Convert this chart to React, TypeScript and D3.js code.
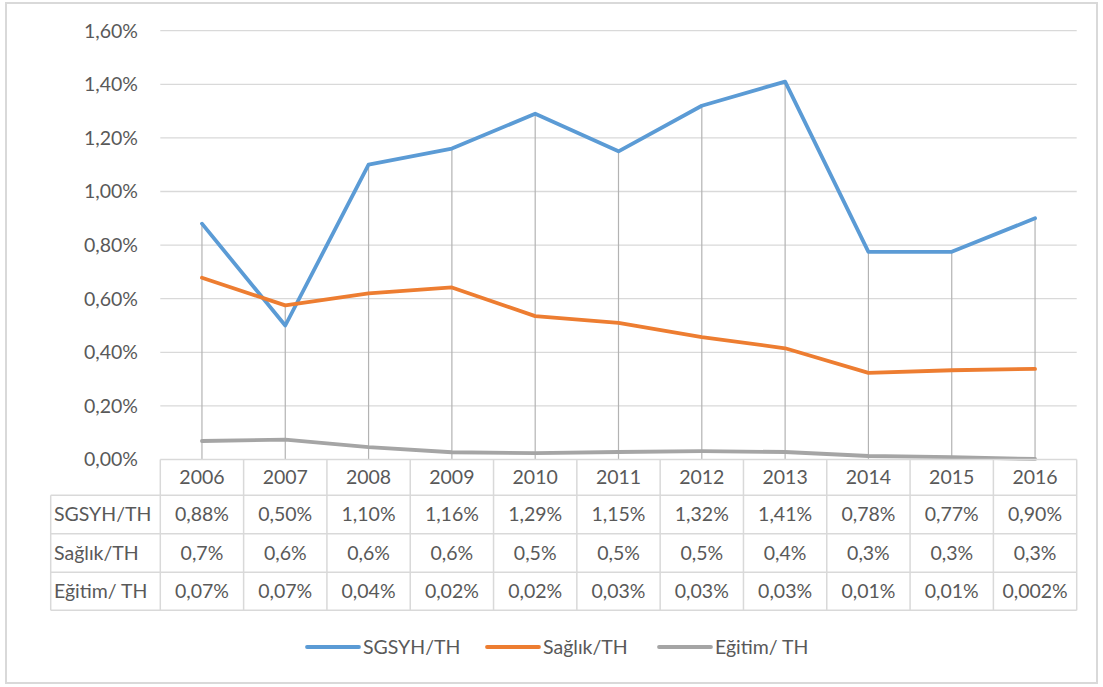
import React from 'react';
import * as d3 from 'd3';

const years = ['2006', '2007', '2008', '2009', '2010', '2011', '2012', '2013', '2014', '2015', '2016'];

// line values, in percent
const sgsyh = [0.88, 0.5, 1.1, 1.16, 1.29, 1.15, 1.32, 1.41, 0.775, 0.775, 0.9];
const saglik = [0.678, 0.575, 0.62, 0.642, 0.535, 0.51, 0.457, 0.415, 0.323, 0.333, 0.338];
const egitim = [0.069, 0.074, 0.046, 0.027, 0.024, 0.028, 0.031, 0.028, 0.013, 0.009, 0.002];

// data table text
const sgsyhLabels = ['0,88%', '0,50%', '1,10%', '1,16%', '1,29%', '1,15%', '1,32%', '1,41%', '0,78%', '0,77%', '0,90%'];
const saglikLabels = ['0,7%', '0,6%', '0,6%', '0,6%', '0,5%', '0,5%', '0,5%', '0,4%', '0,3%', '0,3%', '0,3%'];
const egitimLabels = ['0,07%', '0,07%', '0,04%', '0,02%', '0,02%', '0,03%', '0,03%', '0,03%', '0,01%', '0,01%', '0,002%'];

const yTicks = [0, 0.2, 0.4, 0.6, 0.8, 1.0, 1.2, 1.4, 1.6];

const series = [
  { name: 'SGSYH/TH', values: sgsyh, labels: sgsyhLabels, color: '#5b9bd5' },
  { name: 'Sağlık/TH', values: saglik, labels: saglikLabels, color: '#ed7d31' },
  { name: 'Eğitim/ TH', values: egitim, labels: egitimLabels, color: '#a5a5a5' },
];

const W = 1103;
const H = 687;
const FONT = 'Lato, "Open Sans", sans-serif';
const FS = 19.5;
const TEXT = '#595959';
const GRID = '#d9d9d9';

export default function App() {
  const plotLeft = 160.3;
  const plotRight = 1076.7;
  const tableLeft = 50.7;

  const x = d3.scaleBand<string>().domain(years).range([plotLeft, plotRight]);
  const y = d3.scaleLinear().domain([0, 1.6]).range([459.5, 30.7]);
  const cx = (i: number) => (x(years[i]) as number) + x.bandwidth() / 2;

  const line = d3.line<number>()
    .x((_, i) => cx(i))
    .y(d => y(d));

  // table rows: header row then one per series
  const rowEdges = [459.5, 495.3, 533.7, 572.3, 610.3];

  return (
    <svg width={W} height={H} style={{ position: 'absolute', left: 0, top: 0 }} fontFamily={FONT}>
      <rect x={0} y={0} width={W} height={H} fill="#fff" />
      <rect x={6} y={3} width={1091} height={680} fill="none" stroke={GRID} strokeWidth={2} />

      {/* gridlines + y labels */}
      {yTicks.map(t => (
        <g key={t}>
          {t > 0 && (
            <line x1={plotLeft} x2={plotRight} y1={y(t)} y2={y(t)} stroke={GRID} strokeWidth={1.3} />
          )}
          <text x={138} y={y(t)} dy="0.35em" textAnchor="end" fontSize={FS} fill={TEXT}>
            {t.toFixed(2).replace('.', ',')}%
          </text>
        </g>
      ))}

      {/* drop lines */}
      {years.map((yr, i) => (
        <line
          key={yr}
          x1={cx(i)}
          x2={cx(i)}
          y1={y(d3.max(series, s => s.values[i]) as number)}
          y2={y(0)}
          stroke="#b3b3b3"
          strokeWidth={1.2}
        />
      ))}

      {/* series lines */}
      {series.map(s => (
        <path
          key={s.name}
          d={line(s.values) || ''}
          fill="none"
          stroke={s.color}
          strokeWidth={3.8}
          strokeLinejoin="round"
          strokeLinecap="round"
        />
      ))}

      {/* data table */}
      <g stroke={GRID} strokeWidth={1.5}>
        <line x1={plotLeft} x2={plotRight} y1={rowEdges[0]} y2={rowEdges[0]} />
        {rowEdges.slice(1).map(e => (
          <line key={e} x1={tableLeft} x2={plotRight} y1={e} y2={e} />
        ))}
        <line x1={tableLeft} x2={tableLeft} y1={rowEdges[1]} y2={rowEdges[4]} />
        {years.map(yr => (
          <line key={yr} x1={x(yr)} x2={x(yr)} y1={rowEdges[0]} y2={rowEdges[4]} />
        ))}
        <line x1={plotRight} x2={plotRight} y1={rowEdges[0]} y2={rowEdges[4]} />
      </g>
      {years.map((yr, i) => (
        <text key={yr} x={cx(i)} y={(rowEdges[0] + rowEdges[1]) / 2} dy="0.35em" textAnchor="middle" fontSize={FS} fill={TEXT}>
          {yr}
        </text>
      ))}
      {series.map((s, r) => (
        <g key={s.name}>
          <text x={54} y={(rowEdges[r + 1] + rowEdges[r + 2]) / 2} dy="0.35em" fontSize={FS} fill={TEXT}>
            {s.name}
          </text>
          {s.labels.map((l, i) => (
            <text key={i} x={cx(i)} y={(rowEdges[r + 1] + rowEdges[r + 2]) / 2} dy="0.35em" textAnchor="middle" fontSize={FS} fill={TEXT}>
              {l}
            </text>
          ))}
        </g>
      ))}

      {/* legend */}
      {series.map((s, i) => {
        const lx = [307, 487, 659][i];
        return (
          <g key={s.name}>
            <line x1={lx} x2={lx + 52} y1={647} y2={647} stroke={s.color} strokeWidth={3.8} strokeLinecap="round" />
            <text x={lx + 56} y={647} dy="0.35em" fontSize={FS} fill={TEXT}>
              {s.name}
            </text>
          </g>
        );
      })}
    </svg>
  );
}
